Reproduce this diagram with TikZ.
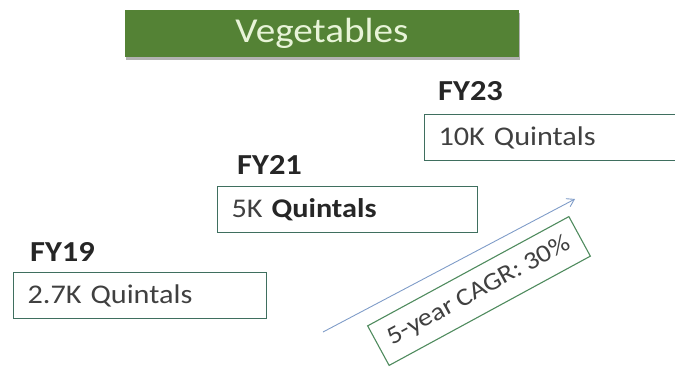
\documentclass[tikz,border=0pt]{standalone}
\usepackage{fontspec}
\setmainfont{Carlito}[FakeStretch=1.12]
\usetikzlibrary{arrows.meta,shadows}
\definecolor{titlegreen}{HTML}{548235}
\definecolor{titletext}{HTML}{E8F4D8}
\definecolor{boxedge}{HTML}{3F6F5F}
\definecolor{cagredge}{HTML}{4F8B5E}
\definecolor{cagrarrow}{HTML}{7F9CC8}
\definecolor{valtext}{HTML}{404040}
\definecolor{fytext}{HTML}{262626}
\tikzset{
  valbox/.style={draw=boxedge, line width=1.1pt, anchor=north west, minimum height=46pt,
    inner xsep=14pt, inner ysep=0pt, align=left, text=valtext,
    font=\fontsize{27}{30}\selectfont},
  fylabel/.style={anchor=west, inner sep=0pt, text=fytext,
    font=\fontsize{29}{32}\selectfont\bfseries}
}
\begin{document}
\begin{tikzpicture}[x=1pt, y=-1pt]
      \clip (0,0) rectangle (675,368);
      % TITLE
      \node[fill=titlegreen, minimum width=394pt, minimum height=47pt, text=titletext,
        font=\fontsize{35}{38}\selectfont,
        drop shadow={shadow xshift=1pt, shadow yshift=-3pt, opacity=0.3, fill=black}]
        (title) at (322,33.5) {Vegetables};
      % FY19
      \node[valbox, text width=225pt] (fy19box) at (13,272) {2.7K Quintals};
      \node[fylabel] (fy19) at (30,252) {FY19};
      % FY21
      \node[valbox, text width=232pt] (fy21box) at (217,186) {5K {\color{fytext}\bfseries Quintals}};
      \node[fylabel] (fy21) at (237,165) {FY21};
      % FY23
      \node[valbox, text width=260pt] (fy23box) at (424,114) {10K Quintals};
      \node[fylabel] (fy23) at (438,91.5) {FY23};
      % CAGR
      \coordinate (cagrstart) at (323,332);
      \coordinate (cagrend) at (575,199);
      \draw[cagrarrow, line width=0.9pt, -{Straight Barb[length=7pt, width=9pt]}] (cagrstart) -- (cagrend);
      \node[draw=cagredge, line width=1.1pt, rotate=28.5, minimum width=229pt,
        minimum height=45pt, text=valtext, font=\fontsize{25}{28}\selectfont]
        (cagr) at (479,291) {5-year CAGR: 30\%};
\end{tikzpicture}
\end{document}
